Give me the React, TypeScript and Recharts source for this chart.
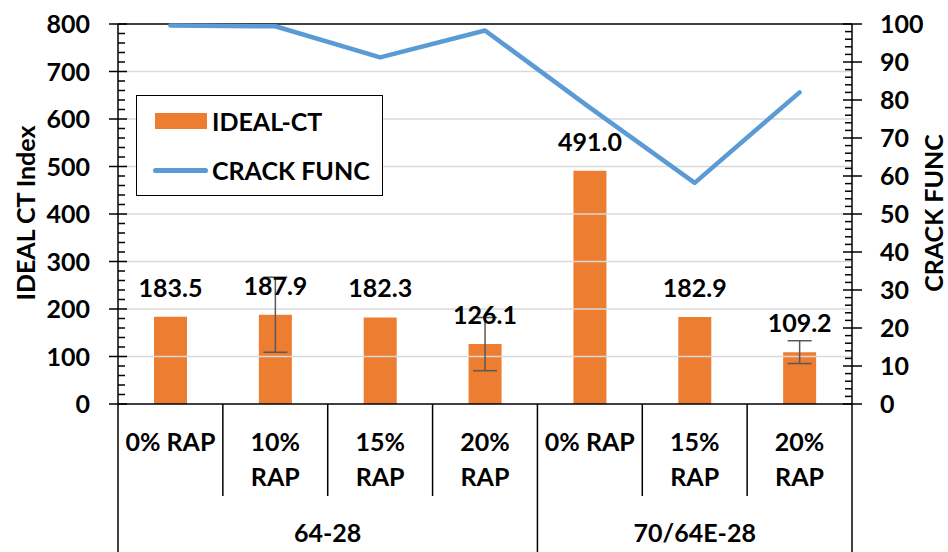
import React from "react";
import {
  ComposedChart,
  Bar,
  Line,
  XAxis,
  YAxis,
  ReferenceLine,
  LabelList,
  ErrorBar,
  Legend,
} from "recharts";

// ---------- data ----------
const categories = [
  "64-28 0% RAP",
  "64-28 10% RAP",
  "64-28 15% RAP",
  "64-28 20% RAP",
  "70/64E-28 0% RAP",
  "70/64E-28 15% RAP",
  "70/64E-28 20% RAP",
];
const categoryLines = [
  ["0% RAP"],
  ["10%", "RAP"],
  ["15%", "RAP"],
  ["20%", "RAP"],
  ["0% RAP"],
  ["15%", "RAP"],
  ["20%", "RAP"],
];
const groupLabels = ["64-28", "70/64E-28"];
const groupSizes = [4, 3];

const idealCT = [183.5, 187.9, 182.3, 126.1, 491.0, 182.9, 109.2];
const idealCTError = [null, 79, null, 56, null, null, 24];
const crackFunc = [99.6, 99.4, 91.2, 98.3, 78.0, 58.2, 82.0];

const leftMajorTicks = [0, 100, 200, 300, 400, 500, 600, 700, 800];
const rightMajorTicks = [0, 10, 20, 30, 40, 50, 60, 70, 80, 90, 100];
const leftMinorStep = 20;
const rightMinorStep = 2;

// ---------- layout / style ----------
const W = 948;
const H = 552;
const LEFT_AXIS_W = 118;
const RIGHT_AXIS_W = 96;
const TOP = 24;
const X_AXIS_H = 148;
const PLOT_LEFT = LEFT_AXIS_W;
const PLOT_RIGHT = W - RIGHT_AXIS_W;
const BAND = (PLOT_RIGHT - PLOT_LEFT) / categories.length;
const FONT = "Lato, 'Open Sans', sans-serif";
const FS = 25;
const ORANGE = "#ED7D31";
const BLUE = "#5B9BD5";

const data = categories.map((c, i) => ({
  cat: c,
  idealCT: idealCT[i],
  err: idealCTError[i],
  crack: crackFunc[i],
}));

function buildTicks(max: number, step: number) {
  const out: number[] = [];
  for (let v = 0; v <= max + 1e-9; v += step) out.push(Math.round(v * 100) / 100);
  return out;
}
const leftTicks = buildTicks(leftMajorTicks[leftMajorTicks.length - 1], leftMinorStep);
const rightTicks = buildTicks(rightMajorTicks[rightMajorTicks.length - 1], rightMinorStep);

const txt = {
  fontFamily: FONT,
  fontWeight: 700,
  fontSize: FS,
  fill: "#000",
};

function LeftTick(props: any) {
  const { x, y, payload } = props;
  const v = payload.value;
  if (leftMajorTicks.includes(v)) {
    return (
      <g>
        <line x1={x - 9} x2={x + 9} y1={y} y2={y} stroke="#000" strokeWidth={1.5} />
        <text x={x - 28} y={y + 9} textAnchor="end" style={txt}>
          {v}
        </text>
      </g>
    );
  }
  return <line x1={x} x2={x + 7} y1={y} y2={y} stroke="#000" strokeWidth={1.5} />;
}

function RightTick(props: any) {
  const { x, y, payload } = props;
  const v = payload.value;
  if (rightMajorTicks.includes(v)) {
    return (
      <g>
        <line x1={x - 9} x2={x + 10} y1={y} y2={y} stroke="#000" strokeWidth={1.5} />
        <text x={x + 28} y={y + 9} textAnchor="start" style={txt}>
          {v}
        </text>
      </g>
    );
  }
  return <line x1={x - 7} x2={x} y1={y} y2={y} stroke="#000" strokeWidth={1.5} />;
}

const groupEnds: number[] = [];
groupSizes.reduce((acc, s) => {
  groupEnds.push(acc + s - 1);
  return acc + s;
}, 0);

function XTick(props: any) {
  const { x, y, payload } = props;
  let i = props.index;
  if (i == null) i = categories.indexOf(payload.value);
  const lines = categoryLines[i] || [];
  const half = BAND / 2;
  const els: any[] = [];
  lines.forEach((l, k) => {
    els.push(
      <text key={"t" + k} x={x} y={y + 47 + k * 35} textAnchor="middle" style={txt}>
        {l}
      </text>
    );
  });
  const bottom = H;
  if (i === 0) {
    els.push(<line key="l0" x1={x - half} x2={x - half} y1={y} y2={bottom} stroke="#000" strokeWidth={1.5} />);
  }
  const gIdx = groupEnds.indexOf(i);
  const endY = gIdx >= 0 ? bottom : y + 92;
  els.push(<line key="r" x1={x + half} x2={x + half} y1={y} y2={endY} stroke="#000" strokeWidth={1.5} />);
  if (gIdx >= 0) {
    const cx = x - ((groupSizes[gIdx] - 1) / 2) * BAND;
    els.push(
      <text key="g" x={cx} y={y + 138} textAnchor="middle" style={txt}>
        {groupLabels[gIdx]}
      </text>
    );
  }
  return <g>{els}</g>;
}

function BarLabel(props: any) {
  const { x, y, width, value } = props;
  if (value == null) return null;
  return (
    <text x={Number(x) + Number(width) / 2} y={Number(y) - 20} textAnchor="middle" style={txt}>
      {Number(value).toFixed(1)}
    </text>
  );
}

function LegendBox(props: any) {
  const raw = props.payload || [];
  const payload = [...raw].sort(
    (a: any, b: any) => (a.type === "line" ? 1 : 0) - (b.type === "line" ? 1 : 0)
  );
  return (
    <div
      style={{
        width: 247,
        height: 101,
        border: "1.5px solid #000",
        boxSizing: "border-box",
        background: "#fff",
        position: "relative",
        fontFamily: FONT,
        fontWeight: 700,
        fontSize: FS,
        color: "#000",
      }}
    >
      {payload.map((p: any, k: number) => {
        const cy = k === 0 ? 25 : 74;
        const isLine = p.type === "line";
        return (
          <div key={k}>
            {isLine ? (
              <div
                style={{
                  position: "absolute",
                  left: 16,
                  top: cy - 2.5,
                  width: 55,
                  height: 5,
                  borderRadius: 3,
                  background: p.color,
                }}
              />
            ) : (
              <div
                style={{
                  position: "absolute",
                  left: 18,
                  top: cy - 8,
                  width: 52,
                  height: 16,
                  background: p.color,
                }}
              />
            )}
            <div
              style={{
                position: "absolute",
                left: 75,
                top: cy - 16,
                lineHeight: "32px",
                whiteSpace: "nowrap",
              }}
            >
              {p.value}
            </div>
          </div>
        );
      })}
    </div>
  );
}

function LeftTitle(props: any) {
  const vb = props.viewBox || { x: 0, y: TOP, width: LEFT_AXIS_W, height: H - TOP - X_AXIS_H };
  const cx = vb.x + 25;
  const cy = vb.y + vb.height / 2 - 1;
  return (
    <text transform={`translate(${cx},${cy}) rotate(-90)`} textAnchor="middle" dominantBaseline="central" style={txt}>
      IDEAL CT Index
    </text>
  );
}

function RightTitle(props: any) {
  const vb = props.viewBox || { x: PLOT_RIGHT, y: TOP, width: RIGHT_AXIS_W, height: H - TOP - X_AXIS_H };
  const cx = vb.x + 81;
  const cy = vb.y + vb.height / 2 - 1;
  return (
    <text transform={`translate(${cx},${cy}) rotate(-90)`} textAnchor="middle" dominantBaseline="central" style={txt}>
      CRACK FUNC
    </text>
  );
}

export default function App() {
  return (
    <div style={{ position: "absolute", left: 0, top: 0, width: W, height: H, background: "#fff" }}>
      <ComposedChart
        width={W}
        height={H}
        data={data}
        margin={{ top: TOP, right: 0, bottom: 0, left: 0 }}
      >
        <XAxis
          dataKey="cat"
          height={X_AXIS_H}
          interval={0}
          tickLine={false}
          tickSize={0}
          tickMargin={0}
          axisLine={{ stroke: "#000", strokeWidth: 1.5 }}
          tick={<XTick />}
        />
        <YAxis
          yAxisId="left"
          orientation="left"
          width={LEFT_AXIS_W}
          domain={[0, 800]}
          ticks={leftTicks}
          interval={0}
          tickLine={false}
          tickSize={0}
          tickMargin={0}
          axisLine={{ stroke: "#000", strokeWidth: 1.5 }}
          tick={<LeftTick />}
          label={{ content: <LeftTitle /> }}
        />
        <YAxis
          yAxisId="right"
          orientation="right"
          width={RIGHT_AXIS_W}
          domain={[0, 100]}
          ticks={rightTicks}
          interval={0}
          tickLine={false}
          tickSize={0}
          tickMargin={0}
          axisLine={{ stroke: "#000", strokeWidth: 1.5 }}
          tick={<RightTick />}
          label={{ content: <RightTitle /> }}
        />
        {leftMajorTicks
          .filter((v) => v > 0)
          .map((v) => (
            <ReferenceLine
              key={v}
              yAxisId="left"
              y={v}
              stroke={v === 800 ? "#000" : "#D9D9D9"}
              strokeWidth={1.5}
              ifOverflow="extendDomain"
            />
          ))}
        <Legend
          layout="vertical"
          verticalAlign="middle"
          align="center"
          content={<LegendBox />}
          wrapperStyle={{ position: "absolute", left: 136, top: 95, width: 247, height: 101 }}
        />
        <Bar
          yAxisId="left"
          dataKey="idealCT"
          name="IDEAL-CT"
          fill={ORANGE}
          barSize={33}
          legendType="rect"
          isAnimationActive={false}
        >
          <LabelList dataKey="idealCT" content={<BarLabel />} />
          <ErrorBar dataKey="err" width={12} stroke="#595959" strokeWidth={1.5} direction="y" />
        </Bar>
        <Line
          yAxisId="right"
          dataKey="crack"
          name="CRACK FUNC"
          type="linear"
          stroke={BLUE}
          strokeWidth={4.5}
          strokeLinejoin="round"
          strokeLinecap="round"
          dot={false}
          activeDot={false}
          legendType="line"
          isAnimationActive={false}
        />
      </ComposedChart>
    </div>
  );
}
